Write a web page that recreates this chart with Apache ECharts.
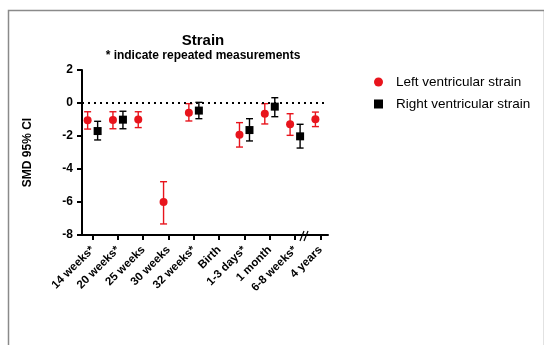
<!DOCTYPE html>
<html>
<head>
<meta charset="utf-8">
<script src="https://cdn.jsdelivr.net/npm/echarts@6/dist/echarts.min.js"></script>
<style>
  html, body { margin: 0; padding: 0; background: #fff; }
  #chart { width: 544px; height: 345px; }
</style>
</head>
<body>
<div id="chart"></div>
<script>
var categories = ["14 weeks*", "20 weeks*", "25 weeks", "30 weeks", "32 weeks*", "Birth", "1-3 days*", "1 month", "6-8 weeks*", "4 years"];
var lvMean = [-1.05, -1.03, -1.0, -6.0, -0.59, null, -1.92, -0.65, -1.29, -0.99];
var lvLow  = [-1.58, -1.56, -1.49, -7.33, -1.09, null, -2.67, -1.27, -1.96, -1.43];
var lvHigh = [-0.53, -0.53, -0.53, -4.77, -0.04, null, -1.19, -0.04, -0.65, -0.55];
var rvMean = [-1.7, -1.01, null, null, -0.46, null, -1.64, -0.22, -2.02, null];
var rvLow  = [-2.24, -1.56, null, null, -0.95, null, -2.3, -0.83, -2.73, null];
var rvHigh = [-1.11, -0.5, null, null, 0.04, null, -0.95, 0.32, -1.29, null];
var yTicks = [-8, -6, -4, -2, 0, 2];

var RED = "#e8141c";
var BLACK = "#000";
var FONT = "Liberation Sans";

var chart = echarts.init(document.getElementById("chart"));

function points(mean) {
  var out = [];
  mean.forEach(function (v, i) { if (v != null) out.push([i, v]); });
  return out;
}
function bars(low, high) {
  var out = [];
  low.forEach(function (v, i) { if (v != null) out.push([i, v, high[i]]); });
  return out;
}
function errorBar(dx, color) {
  return function (params, api) {
    var lo = api.coord([api.value(0), api.value(1)]);
    var hi = api.coord([api.value(0), api.value(2)]);
    var x = lo[0] + dx, cap = 3.5;
    var st = { stroke: color, lineWidth: 1.4 };
    return {
      type: "group",
      children: [
        { type: "line", shape: { x1: x, y1: lo[1], x2: x, y2: hi[1] }, style: st },
        { type: "line", shape: { x1: x - cap, y1: lo[1], x2: x + cap, y2: lo[1] }, style: st },
        { type: "line", shape: { x1: x - cap, y1: hi[1], x2: x + cap, y2: hi[1] }, style: st }
      ]
    };
  };
}
var idx = categories.map(function (c, i) { return i; });

var option = {
  backgroundColor: "#fff",
  textStyle: { fontFamily: FONT },
  title: {
    text: "Strain",
    subtext: "* indicate repeated measurements",
    left: 198,
    top: 28,
    textAlign: "center",
    itemGap: 2,
    textStyle: { fontFamily: FONT, fontSize: 15, fontWeight: "bold", color: "#000" },
    subtextStyle: { fontFamily: FONT, fontSize: 12, fontWeight: "bold", color: "#000" }
  },
  legend: {
    orient: "vertical",
    left: 369,
    top: 70,
    itemWidth: 9,
    itemHeight: 9,
    itemGap: 8,
    textStyle: { fontFamily: FONT, fontSize: 13.5, color: "#000", padding: [0, 0, 0, 8] },
    data: [
      { name: "Left ventricular strain", icon: "circle" },
      { name: "Right ventricular strain", icon: "rect" }
    ]
  },
  grid: { left: 82, top: 70, right: 216, bottom: 110 },
  xAxis: {
    type: "value",
    min: -0.42,
    max: 9.3,
    splitLine: { show: false },
    axisLine: { onZero: false, lineStyle: { color: BLACK, width: 2 } },
    axisTick: { customValues: idx, inside: false, length: 5, lineStyle: { color: BLACK, width: 2 } },
    axisLabel: {
      customValues: idx,
      rotate: 45,
      margin: 13,
      color: "#000",
      fontFamily: FONT,
      fontSize: 11.5,
      fontWeight: "bold",
      formatter: function (v) { return categories[Math.round(v)]; }
    }
  },
  yAxis: {
    type: "value",
    min: yTicks[0],
    max: yTicks[yTicks.length - 1],
    interval: 2,
    name: "SMD 95% CI",
    nameLocation: "middle",
    nameRotate: 90,
    nameGap: 48,
    nameTextStyle: { fontFamily: FONT, fontSize: 12, fontWeight: "bold", color: "#000" },
    splitLine: { show: false },
    axisLine: { show: true, onZero: false, lineStyle: { color: BLACK, width: 2 } },
    axisTick: { show: true, inside: false, length: 5, lineStyle: { color: BLACK, width: 2 } },
    axisLabel: { color: "#000", fontFamily: FONT, fontSize: 12, fontWeight: "bold", margin: 9 }
  },
  series: [
    {
      type: "custom",
      name: "lvErr",
      renderItem: errorBar(-5, RED),
      encode: { x: 0, y: [1, 2] },
      data: bars(lvLow, lvHigh),
      z: 2,
      markLine: {
        silent: true,
        symbol: "none",
        label: { show: false },
        lineStyle: { color: BLACK, type: [2, 4], width: 2 },
        data: [{ yAxis: 0 }]
      }
    },
    {
      type: "custom",
      name: "rvErr",
      renderItem: errorBar(5, BLACK),
      encode: { x: 0, y: [1, 2] },
      data: bars(rvLow, rvHigh),
      z: 2
    },
    {
      type: "scatter",
      name: "Left ventricular strain",
      symbol: "circle",
      symbolSize: 8,
      symbolOffset: [-5, 0],
      itemStyle: { color: RED, opacity: 1 },
      data: points(lvMean),
      z: 3
    },
    {
      type: "scatter",
      name: "Right ventricular strain",
      symbol: "rect",
      symbolSize: 8,
      symbolOffset: [5, 0],
      itemStyle: { color: BLACK, opacity: 1 },
      data: points(rvMean),
      z: 3
    }
  ],
  graphic: [
    { type: "rect", left: 6, top: 8, shape: { width: 536, height: 345 }, style: { fill: "none", stroke: "#8a8a8a", lineWidth: 1.5 } },
    { type: "line", shape: { x1: 300, y1: 241, x2: 304, y2: 231 }, style: { stroke: "#000", lineWidth: 1.2 } },
    { type: "line", shape: { x1: 304, y1: 241, x2: 308, y2: 231 }, style: { stroke: "#000", lineWidth: 1.2 } }
  ]
};
chart.setOption(option);
</script>
</body>
</html>
